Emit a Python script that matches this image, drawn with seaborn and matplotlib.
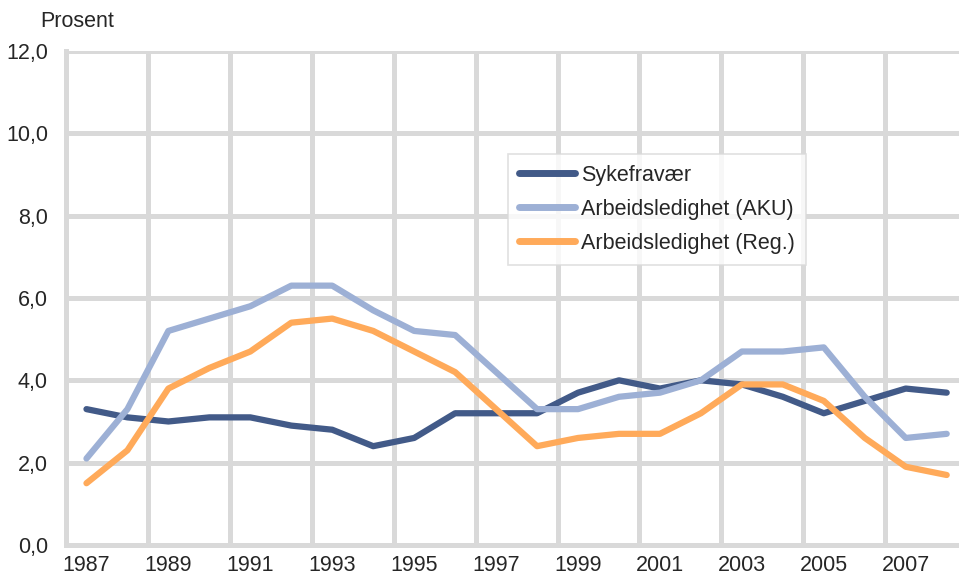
import numpy as np
import pandas as pd
import matplotlib
matplotlib.use("Agg")
import matplotlib.pyplot as plt
import seaborn as sns

years = list(range(1987, 2009))
sykefravaer = [3.3, 3.1, 3.0, 3.1, 3.1, 2.9, 2.8, 2.4, 2.6, 3.2, 3.2,
               3.2, 3.7, 4.0, 3.8, 4.0, 3.9, 3.6, 3.2, 3.5, 3.8, 3.7]
aku = [2.1, 3.3, 5.2, 5.5, 5.8, 6.3, 6.3, 5.7, 5.2, 5.1, 4.2,
       3.3, 3.3, 3.6, 3.7, 4.0, 4.7, 4.7, 4.8, 3.6, 2.6, 2.7]
reg = [1.5, 2.3, 3.8, 4.3, 4.7, 5.4, 5.5, 5.2, 4.7, 4.2, 3.3,
       2.4, 2.6, 2.7, 2.7, 3.2, 3.9, 3.9, 3.5, 2.6, 1.9, 1.7]

labels = ["Sykefravær", "Arbeidsledighet (AKU)", "Arbeidsledighet (Reg.)"]
colors = ["#425A88", "#9DB0D5", "#FFAA5A"]

df = pd.DataFrame({"År": years, labels[0]: sykefravaer,
                   labels[1]: aku, labels[2]: reg})
long_df = df.melt(id_vars="År", var_name="Serie", value_name="Prosent")

sns.set_style("white")
plt.rcParams["font.family"] = ["Liberation Sans", "DejaVu Sans"]
grid_col = "#D9D9D9"

fig = plt.figure(figsize=(9.59, 5.77), dpi=100)
ax = fig.add_axes([0.0688, 0.0555, 0.9312, 0.8561])

sns.lineplot(data=long_df, x="År", y="Prosent", hue="Serie",
             palette=dict(zip(labels, colors)), linewidth=4.5,
             solid_capstyle="round", ax=ax, zorder=3)

ax.set_xlim(1986.5, 2008.3)
ax.set_ylim(0, 12)
ax.set_xticks(years[::2])
ax.set_xticklabels([str(y) for y in years[::2]])
ax.set_xticks(np.arange(1988.5, 2008, 2), minor=True)
ax.set_yticks(np.arange(0, 12.1, 2))
ax.set_yticklabels([f"{v:.1f}".replace(".", ",") for v in np.arange(0, 12.1, 2)])

ax.grid(False)
ax.grid(axis="y", which="major", color=grid_col, linewidth=3.6, zorder=0)
ax.grid(axis="x", which="minor", color=grid_col, linewidth=3.6, zorder=0)
ax.tick_params(axis="both", which="both", length=0, labelsize=15.5)
ax.tick_params(axis="x", pad=7)
ax.tick_params(axis="y", pad=13)
ax.set_axisbelow(True)

for side in ["top", "right"]:
    ax.spines[side].set_visible(False)
for side in ["left", "bottom"]:
    ax.spines[side].set_color(grid_col)
    ax.spines[side].set_linewidth(3.6)

ax.set_xlabel("")
ax.set_ylabel("")
fig.text(0.042, 0.962, "Prosent", fontsize=15.5, ha="left", va="center")

leg = ax.legend(loc="upper left", bbox_to_anchor=(0.495, 0.791),
                borderaxespad=0, fontsize=15.5, handlelength=2.6,
                handletextpad=0.3, labelspacing=0.6, fancybox=False,
                frameon=True, borderpad=0.5)
leg.get_frame().set_edgecolor(grid_col)
leg.get_frame().set_linewidth(1.2)
leg.set_zorder(5)
for line in leg.get_lines():
    line.set_linewidth(5)

fig.savefig("out.png", dpi=100)
